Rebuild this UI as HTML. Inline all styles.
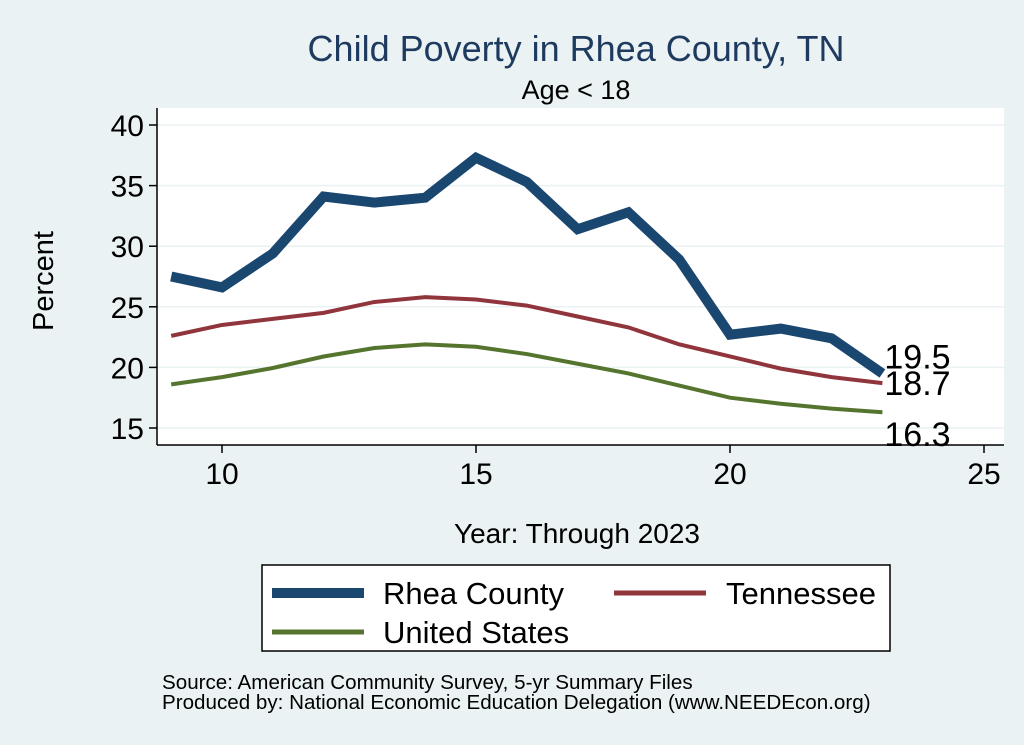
<!DOCTYPE html>
<html><head><meta charset="utf-8"><style>
body{margin:0;background:#eaf2f3;}
svg{display:block;font-family:"Liberation Sans",sans-serif;}
</style></head><body>
<svg id="chart" width="1024" height="745">
<rect width="1024" height="745" fill="#eaf2f3"/>
<rect x="157" y="108" width="847" height="337" fill="#fff"/>
<text x="576" y="61" font-size="36" fill="#1e3a5f" text-anchor="middle">Child Poverty in Rhea County, TN</text>
<text x="576" y="99" font-size="27" text-anchor="middle">Age &lt; 18</text>
<text x="0" y="0" font-size="29" text-anchor="middle" transform="translate(53,281) rotate(-90)">Percent</text>
<text x="577" y="543" font-size="28" text-anchor="middle">Year: Through 2023</text>
<g id="grid"></g><g id="axes"></g><g id="series"></g>
<g>
<rect x="262" y="565" width="628" height="86" fill="#fff" stroke="#000" stroke-width="1.5"/>
<line x1="272" y1="593" x2="364" y2="593" stroke="#1a476f" stroke-width="10"/>
<text x="383" y="604" font-size="31">Rhea County</text>
<line x1="614" y1="593" x2="706" y2="593" stroke="#90353b" stroke-width="5"/>
<text x="726" y="604" font-size="31">Tennessee</text>
<line x1="272" y1="632" x2="364" y2="632" stroke="#55752f" stroke-width="5"/>
<text x="383" y="643" font-size="31">United States</text>
</g>
<text x="162" y="689" font-size="20.6">Source: American Community Survey, 5-yr Summary Files</text>
<text x="162" y="709" font-size="20.6">Produced by: National Economic Education Delegation (www.NEEDEcon.org)</text>
</svg>
<script>
const years=[9,10,11,12,13,14,15,16,17,18,19,20,21,22,23];
const rhea=[27.5,26.6,29.4,34.1,33.6,34.0,37.3,35.3,31.4,32.8,28.9,22.7,23.2,22.4,19.5];
const tn=[22.6,23.5,24.0,24.5,25.4,25.8,25.6,25.1,24.2,23.3,21.9,20.9,19.9,19.2,18.7];
const us=[18.6,19.2,19.95,20.9,21.6,21.9,21.7,21.1,20.3,19.5,18.5,17.5,17.0,16.6,16.3];
const yTicks=[15,20,25,30,35,40];
const xTicks=[10,15,20,25];
const NS="http://www.w3.org/2000/svg";
const xs=v=>222+(v-10)*50.8;
const ys=v=>428-(v-15)*12.12;
function mk(tag,attrs,parent,text){const e=document.createElementNS(NS,tag);for(const k in attrs)e.setAttribute(k,attrs[k]);if(text!==undefined)e.textContent=text;document.getElementById(parent).appendChild(e);return e;}
yTicks.forEach(t=>{
 const g=mk('line',{x1:157,x2:1004,y1:ys(t),y2:ys(t),stroke:'#eaf2f3','stroke-width':1.5},'grid');
 
 
 const tk=mk('line',{x1:149,x2:157,y1:ys(t),y2:ys(t),stroke:'#000','stroke-width':1.5},'axes');
 
 
 const l=mk('text',{x:144,y:ys(t)+11,'font-size':30,'text-anchor':'end'},'axes',t);
 
 
});
xTicks.forEach(t=>{
 const tk=mk('line',{x1:xs(t),x2:xs(t),y1:445,y2:453,stroke:'#000','stroke-width':1.5},'axes');
 
 
 const l=mk('text',{x:xs(t),y:484,'font-size':30,'text-anchor':'middle'},'axes',t);
 
 
});
const ya=mk('line',{x1:157,x2:157,y1:108,y2:445,stroke:'#000','stroke-width':1.5},'axes');


const xa=mk('line',{x1:157,x2:1004,y1:445,y2:445,stroke:'#000','stroke-width':1.5},'axes');


function series(vals,color,w,name,dy){
 const p=mk('polyline',{points:vals.map((v,i)=>xs(years[i])+','+ys(v)).join(' '),fill:'none',stroke:color,'stroke-width':w,'stroke-linejoin':'miter'},'series');
 
 
 const last=vals[vals.length-1];
 const t=mk('text',{x:xs(years[years.length-1])+2,y:ys(last)+dy,'font-size':34},'series',last.toFixed(1));
 
 
}
series(us,'#55752f',4,'us',34);
series(tn,'#90353b',4,'tennessee',12);
series(rhea,'#1a476f',10,'rhea-county',-5);
</script>
</body></html>
